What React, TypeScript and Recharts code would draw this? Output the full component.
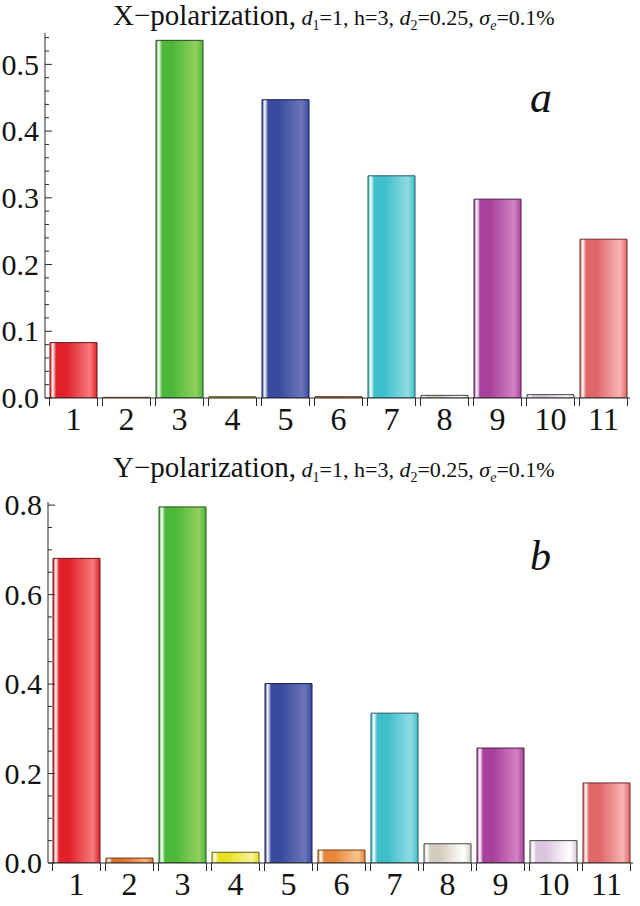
import React from "react";
import { BarChart, Bar, XAxis, YAxis, Cell } from "recharts";

const categories = ["1", "2", "3", "4", "5", "6", "7", "8", "9", "10", "11"];
const xPolarization = [0.083, 0.001, 0.536, 0.002, 0.447, 0.002, 0.333, 0.004, 0.298, 0.005, 0.238];
const yPolarization = [0.681, 0.011, 0.796, 0.024, 0.401, 0.029, 0.335, 0.043, 0.257, 0.05, 0.179];

const xMajorTicks = [0, 0.1, 0.2, 0.3, 0.4, 0.5];
const xMinorTicks = [
  0.02, 0.04, 0.06, 0.08, 0.12, 0.14, 0.16, 0.18, 0.22, 0.24, 0.26, 0.28,
  0.32, 0.34, 0.36, 0.38, 0.42, 0.44, 0.46, 0.48, 0.52, 0.54,
];
const yMajorTicks = [0, 0.2, 0.4, 0.6, 0.8];
const yMinorTicks = [0.05, 0.1, 0.15, 0.25, 0.3, 0.35, 0.45, 0.5, 0.55, 0.65, 0.7, 0.75];

// base, light and edge colours per bar
const barBase = ["#e2222b", "#e0702a", "#4cb83a", "#e8e224", "#394b9f", "#e8863a", "#3fbfcb", "#d2cdbf", "#a8419b", "#dcc6df", "#e06668"];
const barLight = ["#f47a7c", "#f7b27a", "#92d05e", "#f6f39a", "#6c76b9", "#f9c48e", "#90dbe3", "#ffffff", "#d383c4", "#ffffff", "#f8b4b4"];
const barEdge = ["#6b1418", "#6a3612", "#1f4a1a", "#5e5a14", "#161d4a", "#6a3c16", "#1e5a60", "#444444", "#4a1a44", "#444444", "#6a2a2c"];

const SERIF = "Liberation Serif";
const BAR_W = 47;
const AXIS = "#2a2a2a";

function GlassDefs() {
  return (
    <svg width={0} height={0} style={{ position: "absolute" }}>
      <defs>
        {barBase.map((c, i) => (
          <linearGradient key={i} id={`glass${i}`} x1="0" y1="0" x2="1" y2="0">
            <stop offset="0" stopColor={c} />
            <stop offset="0.06" stopColor="#ffffff" />
            <stop offset="0.13" stopColor={c} />
            <stop offset="0.35" stopColor={c} />
            <stop offset="0.85" stopColor={barLight[i]} />
            <stop offset="1" stopColor={c} />
          </linearGradient>
        ))}
      </defs>
    </svg>
  );
}

function makeYTick(major: number[]) {
  return (props: any) => {
    const { x, y, payload } = props;
    const isMajor = major.some((m) => Math.abs(m - payload.value) < 1e-6);
    return (
      <g>
        <line x1={x} x2={x + (isMajor ? 7 : 4)} y1={y} y2={y} stroke={AXIS} strokeWidth={1} />
        {isMajor && (
          <text x={x - 6} y={y} dy="0.34em" textAnchor="end" fontFamily={SERIF} fontSize={30} fill="#111">
            {payload.value.toFixed(1)}
          </text>
        )}
      </g>
    );
  };
}

function XTick(props: any) {
  const { x, y, payload } = props;
  const h = BAR_W / 2 + 0.5;
  return (
    <g>
      <line x1={x - h} x2={x - h} y1={y} y2={y + 8} stroke={AXIS} strokeWidth={1} />
      <line x1={x + h} x2={x + h} y1={y} y2={y + 8} stroke={AXIS} strokeWidth={1} />
      <text x={x} y={y + 32} textAnchor="middle" fontFamily={SERIF} fontSize={32} fill="#111">
        {payload.value}
      </text>
    </g>
  );
}

type PanelProps = {
  values: number[];
  domainMax: number;
  major: number[];
  minor: number[];
  top: number;
  marginTop: number;
  yWidth: number;
  marginRight: number;
  padLeft: number;
  xHeight: number;
};

function Panel({ values, domainMax, major, minor, top, marginTop, yWidth, marginRight, padLeft, xHeight }: PanelProps) {
  const data = categories.map((c, i) => ({ name: c, value: values[i] }));
  const ticks = [...major, ...minor].sort((a, b) => a - b);
  return (
    <div style={{ position: "absolute", left: 0, top, fontFamily: SERIF }}>
      <BarChart
        width={640}
        height={453}
        data={data}
        style={{ fontFamily: SERIF }}
        margin={{ top: marginTop, right: marginRight, bottom: 0, left: 0 }}
      >
        <XAxis
          dataKey="name"
          stroke={AXIS}
          tickLine={false}
          tickSize={0}
          tickMargin={0}
          padding={{ left: padLeft, right: 0 }}
          height={xHeight}
          interval={0}
          tick={<XTick />}
        />
        <YAxis
          type="number"
          domain={[0, domainMax]}
          ticks={ticks}
          interval={0}
          width={yWidth}
          stroke={AXIS}
          tickLine={false}
          tickSize={0}
          tickMargin={0}
          allowDataOverflow
          tick={makeYTick(major)}
        />
        <Bar dataKey="value" barSize={BAR_W} isAnimationActive={false}>
          {data.map((_, i) => (
            <Cell key={i} fill={`url(#glass${i})`} stroke={barEdge[i]} strokeWidth={1} />
          ))}
        </Bar>
      </BarChart>
    </div>
  );
}

function Title({ axis, top }: { axis: string; top: number }) {
  const sub = { fontSize: 14 };
  return (
    <div
      style={{
        position: "absolute",
        left: 113,
        top,
        fontFamily: SERIF,
        fontSize: 29,
        lineHeight: "30px",
        whiteSpace: "nowrap",
        color: "#111",
      }}
    >
      {axis}−polarization,
      <span style={{ fontSize: 22 }}>
        {" "}
        <i>d</i>
        <sub style={sub}>1</sub>=1, h=3, <i>d</i>
        <sub style={sub}>2</sub>=0.25, <i>σ</i>
        <sub style={sub}>
          <i>e</i>
        </sub>
        =0.1%
      </span>
    </div>
  );
}

export default function App() {
  return (
    <div style={{ position: "absolute", left: 0, top: 0, width: 640, height: 906, background: "#fff", overflow: "hidden" }}>
      <GlassDefs />
      <Panel
        values={xPolarization}
        domainMax={0.547}
        major={xMajorTicks}
        minor={xMinorTicks}
        top={0}
        marginTop={33}
        yWidth={45}
        marginRight={10}
        padLeft={2}
        xHeight={55}
      />
      <Panel
        values={yPolarization}
        domainMax={0.807}
        major={yMajorTicks}
        minor={yMinorTicks}
        top={453}
        marginTop={49}
        yWidth={48}
        marginRight={7}
        padLeft={2}
        xHeight={43}
      />
      <Title axis="X" top={0} />
      <Title axis="Y" top={452} />
      <div style={{ position: "absolute", left: 530, top: 72, fontFamily: SERIF, fontStyle: "italic", fontSize: 44, color: "#111" }}>a</div>
      <div style={{ position: "absolute", left: 530, top: 532, fontFamily: SERIF, fontStyle: "italic", fontSize: 42, color: "#111" }}>b</div>
    </div>
  );
}
